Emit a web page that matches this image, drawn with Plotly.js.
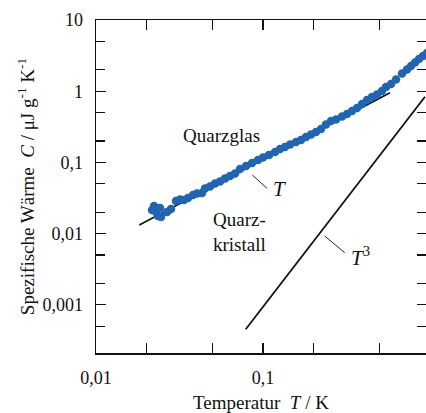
<!DOCTYPE html>
<html>
<head>
<meta charset="utf-8">
<script src="https://cdn.plot.ly/plotly-3.0.1.min.js"></script>
<style>html,body{margin:0;padding:0;background:#fff;}#chart{width:426px;height:413px;}</style>
</head>
<body>
<div id="chart"></div>
<script>
// Quarzglas measured data (T in K, C in µJ g^-1 K^-1)
const glassT = [0.02164,0.02225,0.02287,0.02351,0.0245,0.02416,0.02662,0.02813,0.03013,0.03184,
  0.03365,0.03555,0.03809,0.04025,0.04313,0.04495,0.04815,0.05159,0.05527,0.05922,
  0.06345,0.06797,0.07283,0.07912,0.08594,0.09335,0.1,0.1086,0.118,0.1264,
  0.1354,0.1451,0.1576,0.1689,0.181,0.1939,0.2077,0.2225,0.2384,0.2554,
  0.2736,0.2972,0.3184,0.3412,0.3656,0.3916,0.4196,0.4496,0.4816,0.516,
  0.5452,0.5842,0.6258,0.6798,0.7284,0.7697,0.8133,0.8594,0.9081,0.9594];
const glassC = [0.02145,0.02442,0.02011,0.01767,0.01711,0.02288,0.02011,0.02215,0.0287,0.03012,
  0.02964,0.03162,0.03484,0.03658,0.03717,0.04298,0.04586,0.05053,0.05391,0.0594,
  0.06442,0.06985,0.08077,0.089,0.09808,0.1081,0.1172,0.127,0.14,0.1543,
  0.1646,0.1784,0.1934,0.2063,0.2273,0.2465,0.2673,0.2945,0.3405,0.3815,
  0.4004,0.4412,0.4784,0.5271,0.5808,0.6611,0.7524,0.8288,0.8989,1.006,
  1.146,1.262,1.46,1.773,2.018,2.259,2.53,2.833,3.122,3.44];
// Linear-T fit line (glass)
const fitT = [0.01816, 0.576];
const fitC = [0.01321, 0.953];
// T^3 line (crystal)
const cubeT = [0.0788, 0.933];
const cubeC = [0.000453, 0.837];
// Leader lines
const leadT_x = [0.0863, 0.1057];
const leadT_y = [0.06651, 0.04327];
const lead3_x = [0.2342, 0.3085];
const lead3_y = [0.009254, 0.005391];
// Ticks
const xMajor = [0.01, 0.1, 1];
const xMajorText = ['0,01', '0,1', '1'];
const xMinor = [0.02, 0.05, 0.2, 0.5];
const yMajor = [10, 1, 0.1, 0.01, 0.001];
const yMajorText = ['10', '1', '0,1', '0,01', '0,001'];
const yMinor = [5, 2, 0.5, 0.2, 0.05, 0.02, 0.005, 0.002, 0.0005, 0.0002];

const FONT = 'Liberation Serif, Times New Roman, serif';
const blue = '#1f65b3';

const traces = [
  {x: fitT, y: fitC, mode: 'lines', line: {color: '#111', width: 1.6}, hoverinfo: 'skip'},
  {x: cubeT, y: cubeC, mode: 'lines', line: {color: '#111', width: 1.8}, hoverinfo: 'skip'},
  {x: leadT_x, y: leadT_y, mode: 'lines', line: {color: '#111', width: 0.9}, hoverinfo: 'skip'},
  {x: lead3_x, y: lead3_y, mode: 'lines', line: {color: '#111', width: 0.9}, hoverinfo: 'skip'},
  {x: glassT, y: glassC, mode: 'markers', marker: {color: blue, size: 8.5}, hoverinfo: 'skip'},
  {x: [], y: [], yaxis: 'y2', mode: 'markers', hoverinfo: 'skip'}
];

const yRange = [1 - 333/71.2, 1];

const layout = {
  width: 426, height: 413,
  margin: {l: 96, r: 0, t: 20, b: 60},
  paper_bgcolor: '#fff', plot_bgcolor: '#fff',
  showlegend: false,
  font: {family: FONT, size: 18, color: '#111'},
  xaxis: {
    type: 'log', range: [-2, -2 + 330/167],
    showline: true, linecolor: '#111', linewidth: 1.5, mirror: 'ticks',
    showgrid: false, zeroline: false,
    ticks: 'inside', ticklen: 10, tickwidth: 1.3, tickcolor: '#111',
    tickmode: 'array', tickvals: xMajor, ticktext: xMajorText,
    minor: {tickmode: 'array', tickvals: xMinor, ticks: 'inside', ticklen: 10, tickwidth: 1.3, tickcolor: '#111', showgrid: false},
    ticklabelstandoff: 8,
    tickfont: {family: FONT, size: 18, color: '#111'},
    title: {text: 'Temperatur\u00a0\u00a0<i>T</i> / K', font: {family: FONT, size: 19, color: '#111'}, standoff: 12}
  },
  yaxis: {
    type: 'log', range: yRange,
    showline: true, linecolor: '#111', linewidth: 1.5, mirror: false,
    showgrid: false, zeroline: false,
    ticks: 'inside', ticklen: 10, tickwidth: 1.3, tickcolor: '#111',
    tickmode: 'array', tickvals: yMajor, ticktext: yMajorText,
    minor: {tickmode: 'array', tickvals: yMinor, ticks: 'inside', ticklen: 9, tickwidth: 1.3, tickcolor: '#111', showgrid: false},
    ticklabelstandoff: 8,
    tickfont: {family: FONT, size: 18, color: '#111'},
    title: {text: 'Spezifische Wärme\u00a0\u00a0<i>C</i> / μJ g<sup>-1</sup> K<sup>-1</sup>', font: {family: FONT, size: 19, color: '#111'}, standoff: 3}
  },
  yaxis2: {
    type: 'log', range: yRange, overlaying: 'y', side: 'right', anchor: 'x',
    showline: false, showgrid: false, zeroline: false, showticklabels: false,
    ticks: 'inside', ticklen: 9, tickwidth: 1.3, tickcolor: '#111',
    tickmode: 'array', tickvals: yMajor.concat(yMinor)
  },
  annotations: [
    {x: Math.log10(0.0568), y: Math.log10(0.2426), xref: 'x', yref: 'y', text: 'Quarzglas', showarrow: false,
      font: {family: FONT, size: 19, color: '#111'}},
    {x: Math.log10(0.1247), y: Math.log10(0.0423), xref: 'x', yref: 'y', text: '<i>T</i>', showarrow: false,
      font: {family: FONT, size: 21, color: '#111'}},
    {x: Math.log10(0.04883), y: Math.log10(0.0107), xref: 'x', yref: 'y', text: 'Quarz-<br>kristall', showarrow: false,
      xanchor: 'left', align: 'left', font: {family: FONT, size: 19, color: '#111'}},
    {x: Math.log10(0.3809), y: Math.log10(0.004846), xref: 'x', yref: 'y', text: '<i>T</i><sup>3</sup>', showarrow: false,
      font: {family: FONT, size: 21, color: '#111'}}
  ]
};

Plotly.newPlot('chart', traces, layout, {staticPlot: true, displayModeBar: false});
</script>
</body>
</html>
